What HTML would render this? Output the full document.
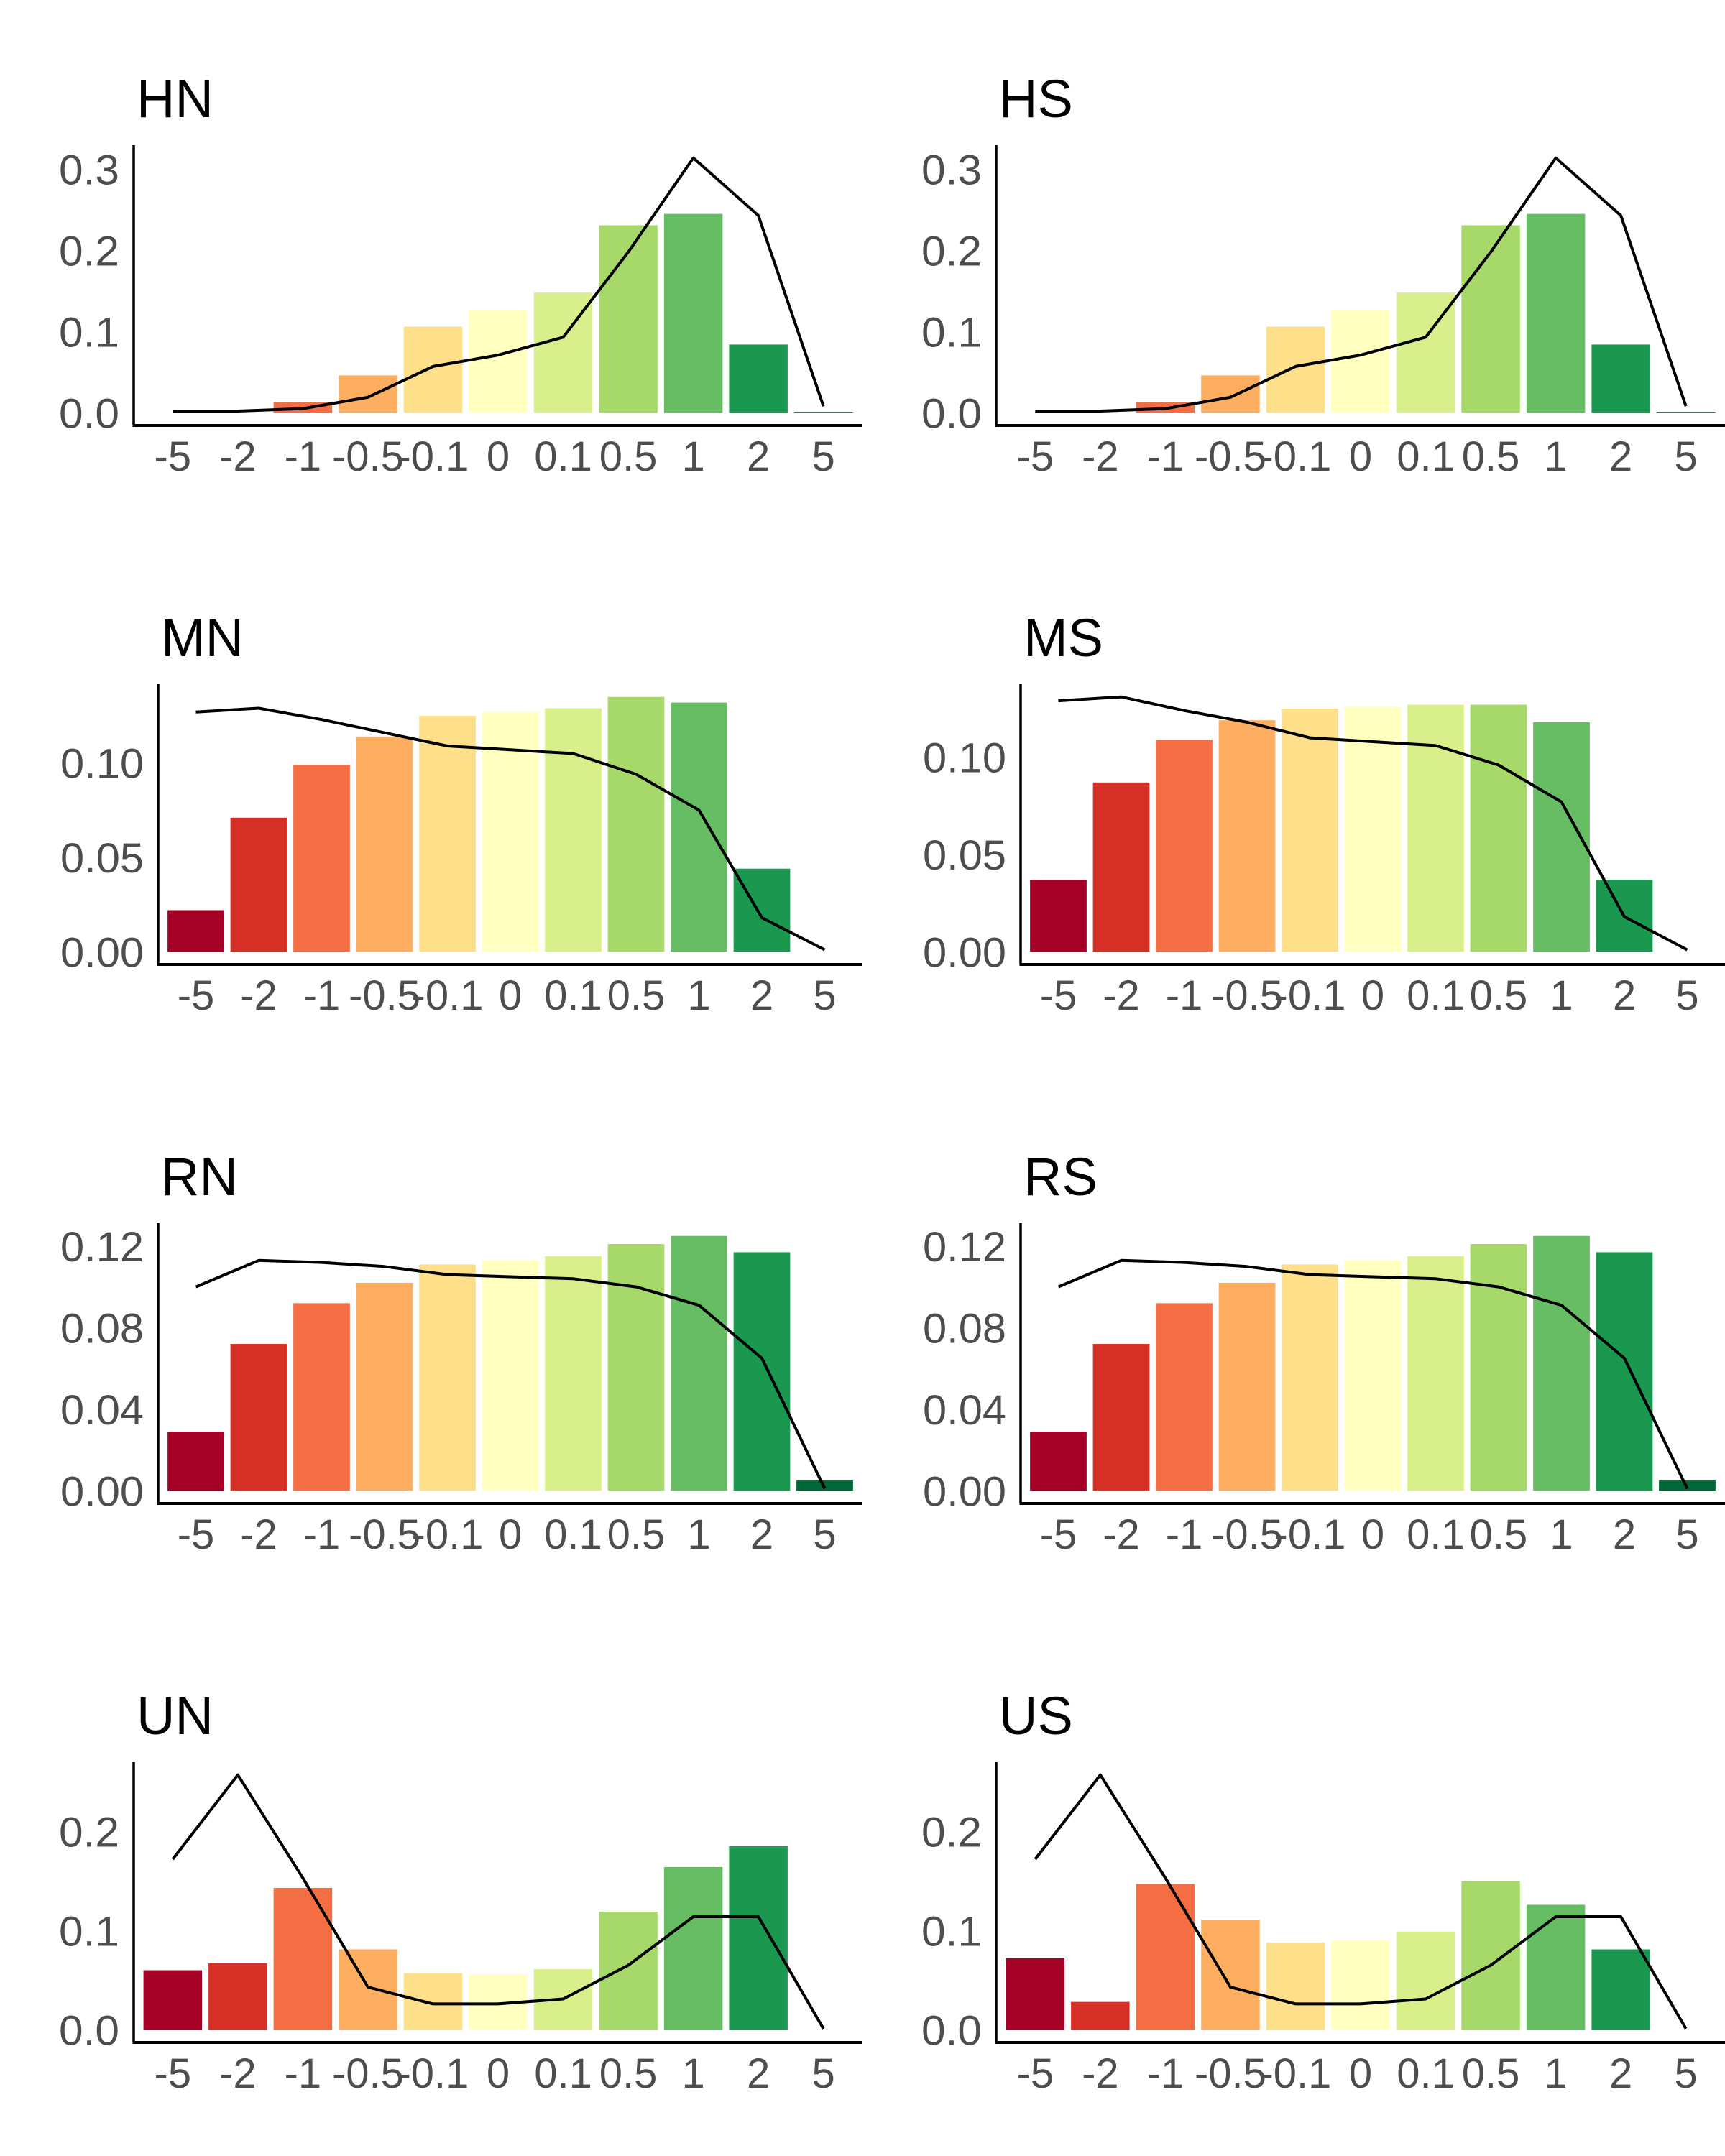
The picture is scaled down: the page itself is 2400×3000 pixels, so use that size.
<!DOCTYPE html>
<html><head><meta charset="utf-8"><style>
html,body{margin:0;padding:0;background:#fff}
svg{display:block}
text{font-family:"Liberation Sans",sans-serif}
</style></head><body>
<svg id="chart" width="2400" height="3000" viewBox="0 0 2400 3000" xmlns="http://www.w3.org/2000/svg"></svg>
<script>
const categories = ["-5","-2","-1","-0.5","-0.1","0","0.1","0.5","1","2","5"];
const colors = ["#a50026","#d73027","#f46d43","#fdae61","#fee08b","#ffffbf","#d9ef8b","#a6d96a","#66bd63","#1a9850","#006837"];
const panelNames = ["HN","HS","MN","MS","RN","RS","UN","US"];
const barsHN = [0.0,0.0,0.013,0.046,0.106,0.126,0.148,0.231,0.245,0.084,0.001];
const lineHN = [0.002,0.002,0.005,0.019,0.057,0.071,0.093,0.198,0.314,0.243,0.008];
const barsHS = [0.0,0.0,0.013,0.046,0.106,0.126,0.148,0.231,0.245,0.084,0.001];
const lineHS = [0.002,0.002,0.005,0.019,0.057,0.071,0.093,0.198,0.314,0.243,0.008];
const barsMN = [0.022,0.071,0.099,0.114,0.125,0.127,0.129,0.135,0.132,0.044,0.0];
const lineMN = [0.127,0.129,0.123,0.116,0.109,0.107,0.105,0.094,0.075,0.018,0.001];
const barsMS = [0.037,0.087,0.109,0.119,0.125,0.126,0.127,0.127,0.118,0.037,0.0];
const lineMS = [0.129,0.131,0.124,0.118,0.110,0.108,0.106,0.096,0.077,0.018,0.001];
const barsRN = [0.029,0.072,0.092,0.102,0.111,0.113,0.115,0.121,0.125,0.117,0.005];
const lineRN = [0.100,0.113,0.112,0.110,0.106,0.105,0.104,0.100,0.091,0.065,0.001];
const barsRS = [0.029,0.072,0.092,0.102,0.111,0.113,0.115,0.121,0.125,0.117,0.005];
const lineRS = [0.100,0.113,0.112,0.110,0.106,0.105,0.104,0.100,0.091,0.065,0.001];
const barsUN = [0.060,0.067,0.143,0.081,0.057,0.056,0.061,0.119,0.164,0.185,0.0];
const lineUN = [0.172,0.257,0.153,0.043,0.026,0.026,0.031,0.065,0.114,0.114,0.001];
const barsUS = [0.072,0.028,0.147,0.111,0.088,0.090,0.099,0.150,0.126,0.081,0.0];
const lineUS = [0.172,0.257,0.153,0.043,0.026,0.026,0.031,0.065,0.114,0.114,0.001];
const ticksH = [0,0.1,0.2,0.3];
const ticksM = [0,0.05,0.10];
const ticksR = [0,0.04,0.08,0.12];
const ticksU = [0,0.1,0.2];
const tickDigitsH = 1, tickDigitsM = 2, tickDigitsR = 2, tickDigitsU = 1;

const svg = document.getElementById('chart');
const NS = 'http://www.w3.org/2000/svg';
function mk(tag, attrs, parent){const e=document.createElementNS(NS,tag);for(const k in attrs)e.setAttribute(k,attrs[k]);parent.appendChild(e);return e;}

const panels = [
  {bars:barsHN,line:lineHN,ticks:ticksH,dg:tickDigitsH},
  {bars:barsHS,line:lineHS,ticks:ticksH,dg:tickDigitsH},
  {bars:barsMN,line:lineMN,ticks:ticksM,dg:tickDigitsM},
  {bars:barsMS,line:lineMS,ticks:ticksM,dg:tickDigitsM},
  {bars:barsRN,line:lineRN,ticks:ticksR,dg:tickDigitsR},
  {bars:barsRS,line:lineRS,ticks:ticksR,dg:tickDigitsR},
  {bars:barsUN,line:lineUN,ticks:ticksU,dg:tickDigitsU},
  {bars:barsUS,line:lineUS,ticks:ticksU,dg:tickDigitsU}
];

panels.forEach((p, i) => {
  const name = panelNames[i];
  const ox = (i % 2) * 1200, oy = Math.floor(i / 2) * 750;
  const g = mk('g', {}, svg);
  
  
  const left = ox + (p.dg === 2 ? 220 : 186);
  const right = ox + 1200;
  const top = oy + 202, bottom = oy + 592;
  const maxV = Math.max(...p.bars, ...p.line);
  const lo = -0.05 * maxV, hi = maxV * 1.05;
  const y = v => bottom - (v - lo) / (hi - lo) * (bottom - top);
  const unit = (right - left) / (categories.length + 0.2);
  const x = k => left + unit * (0.6 + k);

  const t = mk('text', {x: left + 4, y: oy + 163, 'font-size': 74, fill: '#000'}, g);
  t.textContent = name;
  
  

  p.bars.forEach((v, k) => {
    const r = mk('rect', {x: x(k) - unit * 0.45, y: Math.min(y(v), y(0)), width: unit * 0.9, height: Math.abs(y(0) - y(v)), fill: colors[k]}, g);
    
    
  });

  const pts = p.line.map((v, k) => x(k).toFixed(1) + ',' + y(v).toFixed(1)).join(' ');
  const pl = mk('polyline', {points: pts, fill: 'none', stroke: '#000', 'stroke-width': 4, 'stroke-linejoin': 'round'}, g);
  
  

  const ya = mk('line', {x1: left, y1: top, x2: left, y2: bottom, stroke: '#000', 'stroke-width': 3.5}, g);
  
  
  const xa = mk('line', {x1: left - 1.5, y1: bottom, x2: right, y2: bottom, stroke: '#000', 'stroke-width': 4}, g);
  
  

  p.ticks.forEach(tv => {
    const tl = mk('text', {x: left - 20, y: y(tv) + 21, 'font-size': 58, fill: '#4d4d4d', 'text-anchor': 'end', 'textLength': p.dg === 2 ? 116 : 84, 'lengthAdjust': 'spacingAndGlyphs'}, g);
    tl.textContent = tv.toFixed(p.dg);
    
    
  });
  categories.forEach((c, k) => {
    const xl = mk('text', {x: x(k), y: oy + 655, 'font-size': 58, fill: '#4d4d4d', 'text-anchor': 'middle'}, g);
    xl.textContent = c;
    
    
  });
});
</script>
</body></html>
